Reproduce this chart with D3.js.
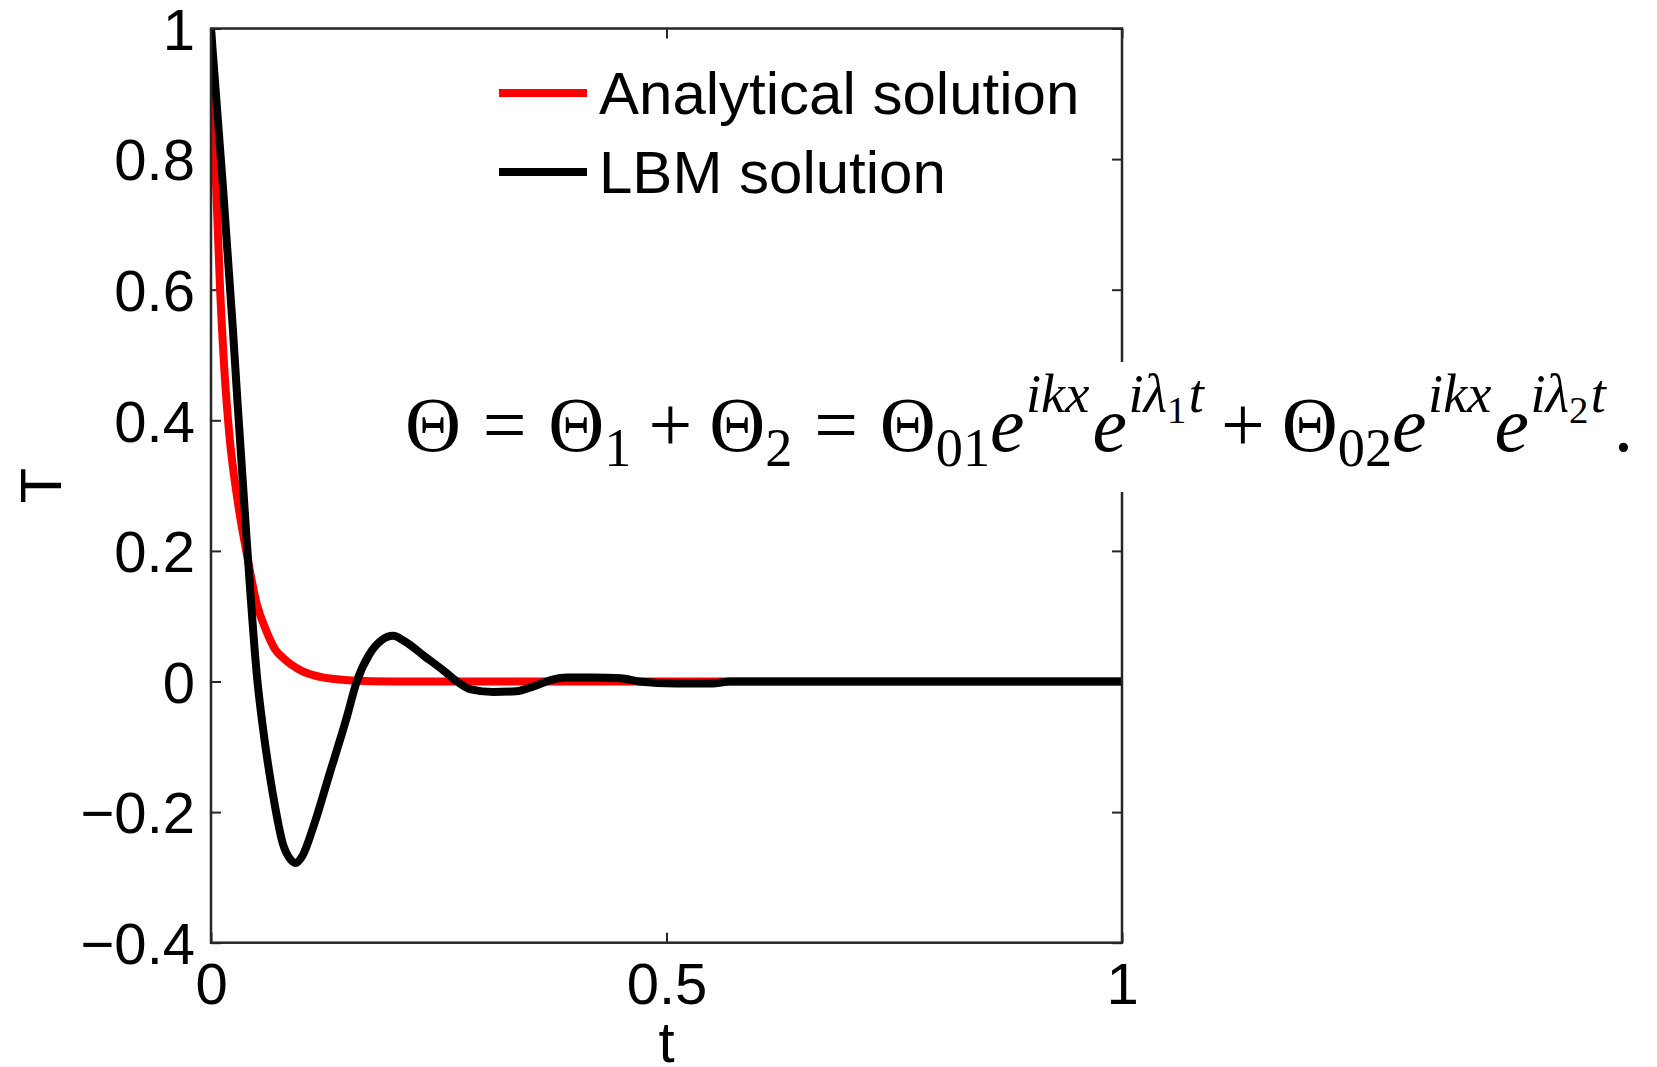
<!DOCTYPE html>
<html>
<head>
<meta charset="utf-8">
<script src="https://cdn.jsdelivr.net/npm/d3@7"></script>
<style>
  body { margin: 0; background: #fff; }
  svg { display: block; }
  text { font-family: "Liberation Sans", Arial, sans-serif; fill: #000; }
  text.eq { font-family: "Liberation Serif", "Times New Roman", serif; }
</style>
</head>
<body>
<div class="chart"></div>
<script>
// analytical solution (red)
var tAnalytical = [0, 0.005, 0.01, 0.015, 0.02, 0.03, 0.04, 0.05, 0.06, 0.07, 0.08, 0.1, 0.12, 0.15, 0.2, 0.3, 0.4, 0.5, 0.6, 0.7, 0.8, 0.9, 1.0];
var TAnalytical = [1, 0.78, 0.6, 0.47, 0.38, 0.27, 0.19, 0.12, 0.08, 0.05, 0.035, 0.016, 0.007, 0.002, 0, 0, 0, 0, 0, 0, 0, 0, 0];

// LBM solution (black)
var tLBM = [0, 0.013, 0.024, 0.029, 0.039, 0.051, 0.057, 0.068, 0.079, 0.087, 0.093, 0.1, 0.112, 0.13, 0.149, 0.16, 0.174, 0.187, 0.2, 0.212, 0.235, 0.255, 0.27, 0.285, 0.31, 0.335, 0.355, 0.375, 0.39, 0.42, 0.45, 0.47, 0.51, 0.55, 0.57, 0.6, 0.7, 0.8, 0.9, 1.0];
var TLBM = [1, 0.76, 0.54, 0.43, 0.22, 0.0, -0.071, -0.173, -0.249, -0.272, -0.278, -0.268, -0.224, -0.142, -0.055, 0.0, 0.042, 0.063, 0.07, 0.062, 0.038, 0.017, 0.0, -0.012, -0.016, -0.015, -0.007, 0.003, 0.006, 0.006, 0.005, 0.0, -0.003, -0.003, 0, 0, 0, 0, 0, 0];

var xTicks = [0, 0.5, 1];
var xTickLabels = ["0", "0.5", "1"];
var yTicks = [-0.4, -0.2, 0, 0.2, 0.4, 0.6, 0.8, 1];
var yTickLabels = ["\u22120.4", "\u22120.2", "0", "0.2", "0.4", "0.6", "0.8", "1"];

var seriesNames = ["Analytical solution", "LBM solution"];
var seriesColors = ["#ff0000", "#000000"];

draw();

function draw() {
    var W = 1657, H = 1067;
    var plotLeft = 211, plotRight = 1122, plotTop = 28.5, plotBottom = 942.7;
    var fontSize = 58;

    var svg = d3.select('.chart')
        .append('svg')
        .attr('width', W)
        .attr('height', H);

    svg.append('rect').attr('width', W).attr('height', H).attr('fill', '#fff');

    var x = d3.scaleLinear().domain([0, 1]).range([plotLeft, plotRight]);
    var y = d3.scaleLinear().domain([-0.4, 1]).range([plotBottom, plotTop]);

    // axes, ticks pointing inwards like matlab
    function styleAxis(g) {
        g.select('.domain').remove();
        g.selectAll('.tick line').attr('stroke', '#262626').attr('stroke-width', 2);
        g.selectAll('.tick text')
            .style('font-size', fontSize + 'px')
            .attr('fill', '#000');
    }

    svg.append('g')
        .attr('transform', 'translate(' + plotLeft + ',0)')
        .call(d3.axisLeft(y).tickValues(yTicks)
            .tickFormat(function (d, i) { return yTickLabels[i]; })
            .tickSizeInner(-10).tickSizeOuter(0).tickPadding(16))
        .call(styleAxis)
        .selectAll('.tick text').attr('dy', '0.36em');

    svg.append('g')
        .attr('transform', 'translate(' + plotRight + ',0)')
        .call(d3.axisRight(y).tickValues(yTicks).tickFormat('')
            .tickSizeInner(-10).tickSizeOuter(0))
        .call(styleAxis);

    svg.append('g')
        .attr('transform', 'translate(0,' + plotBottom + ')')
        .call(d3.axisBottom(x).tickValues(xTicks)
            .tickFormat(function (d, i) { return xTickLabels[i]; })
            .tickSizeInner(-10).tickSizeOuter(0).tickPadding(20))
        .call(styleAxis);

    svg.append('g')
        .attr('transform', 'translate(0,' + plotTop + ')')
        .call(d3.axisTop(x).tickValues(xTicks).tickFormat('')
            .tickSizeInner(-10).tickSizeOuter(0))
        .call(styleAxis);

    // curves
    var line = d3.line()
        .x(function (d) { return x(d[0]); })
        .y(function (d) { return y(d[1]); })
        .curve(d3.curveMonotoneX);

    var series = [
        d3.zip(tAnalytical, TAnalytical),
        d3.zip(tLBM, TLBM)
    ];

    svg.append('defs').append('clipPath').attr('id', 'plot-clip')
        .append('rect')
        .attr('x', plotLeft).attr('y', plotTop - 4)
        .attr('width', plotRight - plotLeft).attr('height', plotBottom - plotTop + 4);

    svg.append('g')
        .attr('clip-path', 'url(#plot-clip)')
        .selectAll('path')
        .data(series)
        .enter()
        .append('path')
        .attr('d', line)
        .attr('fill', 'none')
        .attr('stroke', function (d, i) { return seriesColors[i]; })
        .attr('stroke-width', 8)
        .attr('stroke-linejoin', 'round');

    // frame
    svg.append('rect')
        .attr('x', plotLeft).attr('y', plotTop)
        .attr('width', plotRight - plotLeft).attr('height', plotBottom - plotTop)
        .attr('fill', 'none')
        .attr('stroke', '#262626')
        .attr('stroke-width', 2.5);

    // axis labels
    svg.append('text')
        .attr('x', (plotLeft + plotRight) / 2)
        .attr('y', 1062)
        .attr('text-anchor', 'middle')
        .style('font-size', fontSize + 'px')
        .text('t');

    svg.append('text')
        .attr('transform', 'translate(61,' + ((plotTop + plotBottom) / 2) + ') rotate(-90)')
        .attr('text-anchor', 'middle')
        .style('font-size', fontSize + 'px')
        .text('T');

    // legend
    var legend = svg.append('g').selectAll('g')
        .data(seriesNames)
        .enter()
        .append('g')
        .attr('transform', function (d, i) { return 'translate(0,' + (93 + i * 79) + ')'; });

    legend.append('line')
        .attr('x1', 499).attr('x2', 587)
        .attr('stroke', function (d, i) { return seriesColors[i]; })
        .attr('stroke-width', 8);

    legend.append('text')
        .attr('x', 599)
        .attr('y', 21)
        .style('font-size', '60px')
        .text(function (d) { return d; });

    // pasted equation with its white background
    svg.append('rect')
        .attr('x', 395).attr('y', 362)
        .attr('width', W - 395).attr('height', 130)
        .attr('fill', '#fff');

    // [text, level, italic, space before (em)]; level 0 main, 1 sub, 2 sup, 3 sub inside sup
    var eqParts = [
        ['\u0398', 0, false, 0],
        ['=', 0, false, 0.28],
        ['\u0398', 0, false, 0.28],
        ['1', 1, false, 0],
        ['+', 0, false, 0.22],
        ['\u0398', 0, false, 0.22],
        ['2', 1, false, 0],
        ['=', 0, false, 0.28],
        ['\u0398', 0, false, 0.28],
        ['01', 1, false, 0],
        ['e', 0, true, 0],
        ['ikx', 2, true, 0.02],
        ['e', 0, true, 0.04],
        ['i\u03bb', 2, true, 0.02],
        ['1', 3, false, 0],
        ['t', 2, true, 0.03],
        ['+', 0, false, 0.22],
        ['\u0398', 0, false, 0.22],
        ['02', 1, false, 0],
        ['e', 0, true, 0],
        ['ikx', 2, true, 0.02],
        ['e', 0, true, 0.04],
        ['i\u03bb', 2, true, 0.02],
        ['2', 3, false, 0],
        ['t', 2, true, 0.03],
        ['.', 0, false, 0.1]
    ];

    var eqBase = 451;
    var levelShift = [0, 0.19, -0.5, -0.36];
    var levelSize = [1, 0.7, 0.7, 0.5];

    function drawEquation(size) {
        svg.selectAll('text.eq').remove();
        var eq = svg.append('text')
            .attr('class', 'eq')
            .attr('x', 405)
            .attr('y', eqBase)
            .style('font-size', size + 'px');
        eqParts.forEach(function (p) {
            eq.append('tspan')
                .attr('y', eqBase + levelShift[p[1]] * size)
                .attr('dx', p[3] * size)
                .style('font-size', (levelSize[p[1]] * size) + 'px')
                .style('font-style', p[2] ? 'italic' : 'normal')
                .text(p[0]);
        });
        return eq;
    }

    var eqSize = 64;
    var eqWidth = drawEquation(eqSize).node().getBBox().width;
    drawEquation(eqSize * 1228 / eqWidth);
}
</script>
</body>
</html>
